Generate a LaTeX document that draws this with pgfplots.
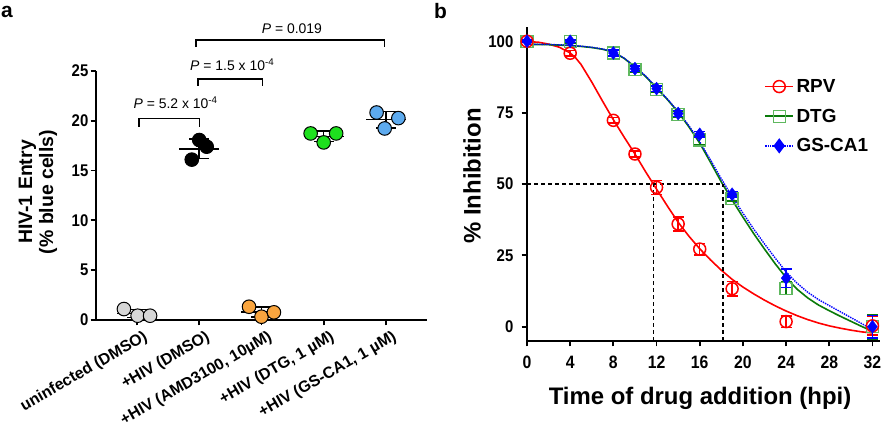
\documentclass[border=0pt]{standalone}
\usepackage{fontspec}
\setmainfont{Liberation Sans}
\newfontfamily\cond[FakeStretch=0.88]{Liberation Sans}
\usepackage{pgfplots}
\pgfplotsset{compat=1.18}
\definecolor{ptgray}{HTML}{D6D6D6}
\definecolor{ptorange}{HTML}{F9A53F}
\definecolor{ptgreen}{HTML}{1EE01E}
\definecolor{ptblue}{HTML}{5DAAEE}
\definecolor{rpv}{HTML}{FF0000}
\definecolor{dtg}{HTML}{0A7A0A}
\definecolor{dtgmk}{HTML}{5FB85F}
\definecolor{gsca}{HTML}{0000FF}
\pgfplotsset{
  panel/.style={
    scale only axis, anchor=south west, clip=false,
    axis x line=bottom, axis y line=left,
    axis line style={-, line width=1.8bp},
    tick align=outside, major tick length=5.5bp,
    tick style={line width=1.8bp, black},
    /pgf/number format/assume math mode=true,
  },
  dots/.style={only marks, mark=*, mark size=6.8bp,
    mark options={draw=black, line width=1bp, fill=#1}},
}
\begin{document}
\begin{tikzpicture}[x=1bp,y=1bp]
\useasboundingbox (0,0) rectangle (881,437);

% ---- panel a
\begin{axis}[panel,
  at={(96bp,117bp)}, width=331bp, height=249bp,
  xmin=-0.659, xmax=4.66, ymin=0, ymax=25,
  xtick={0,...,4},
  xticklabels={uninfected (DMSO), +HIV (DMSO), {+HIV (AMD3100, 10µM)}, {+HIV (DTG, 1 µM)}, {+HIV (GS-CA1, 1 µM)}},
  ytick={0,5,...,25},
  yticklabel style={font=\cond\bfseries\fontsize{17}{17}\selectfont, inner sep=2bp},
  xticklabel style={font=\bfseries\fontsize{16}{16}\selectfont, rotate=30, anchor=north east, inner sep=0pt, xshift=3bp, yshift=-6bp},
]
% mean and SD
\addplot[only marks, mark=-, mark size=20bp, mark options={line width=1.5bp, black},
  error bars/.cd, y dir=both, y explicit,
  error bar style={line width=1.5bp, black},
  error mark options={rotate=90, mark size=10bp, line width=1.5bp, black}]
  coordinates {(0,0.65) +- (0,0.39) (1,17.19) +- (0,1.0) (2,0.81) +- (0,0.5) (3,18.43) +- (0,0.52) (4,20.11) +- (0,0.81)};
\addplot[dots=ptgray] coordinates {(-0.21,1.1) (0.01,0.43) (0.21,0.43)};
\addplot[dots=black] coordinates {(0.88,16.1) (1.0,18.07) (1.12,17.4)};
\addplot[dots=ptorange] coordinates {(1.80,1.33) (2.0,0.33) (2.20,0.77)};
\addplot[dots=ptgreen] coordinates {(2.79,18.73) (3.0,17.83) (3.20,18.73)};
\addplot[dots=ptblue] coordinates {(3.85,20.83) (3.98,19.23) (4.20,20.27)};
% significance brackets
\draw[line width=1.3bp] (axis cs:0.03,19.4) -- (axis cs:0.03,20.2) -- (axis cs:1.0,20.2) -- (axis cs:1.0,19.4);
\draw[line width=1.3bp] (axis cs:0.98,23.5) -- (axis cs:0.98,24.2) -- (axis cs:2.02,24.2) -- (axis cs:2.02,23.5);
\draw[line width=1.3bp] (axis cs:0.95,27.4) -- (axis cs:0.95,28.1) -- (axis cs:3.98,28.1) -- (axis cs:3.98,27.4);
\node[anchor=base, font=\fontsize{14}{14}\selectfont] at (axis cs:0.62,21.25) {\textit{P} = 5.2 x 10\textsuperscript{-4}};
\node[anchor=base, font=\fontsize{14}{14}\selectfont] at (axis cs:1.53,25.0) {\textit{P} = 1.5 x 10\textsuperscript{-4}};
\node[anchor=base, font=\fontsize{14}{14}\selectfont] at (axis cs:2.49,28.8) {\textit{P} = 0.019};
\end{axis}

% ---- panel b
\begin{axis}[panel,
  at={(527bp,96bp)}, width=353bp, height=314bp,
  xmin=0, xmax=32.7, ymin=-5, ymax=105,
  xtick={0,4,...,32}, ytick={0,25,...,100},
  yticklabel style={font=\cond\bfseries\fontsize{17}{17}\selectfont, inner sep=8bp},
  xticklabel style={font=\cond\bfseries\fontsize{18}{18}\selectfont, inner sep=9bp},
  legend style={at={(0.672,0.842)}, anchor=north west, draw=none, fill=none,
    font=\bfseries\fontsize{19}{19}\selectfont, row sep=10bp, inner sep=0pt,
    nodes={inner sep=2.5bp}},
  legend cell align=left,
  legend image code/.code={\draw[mark repeat=2, mark phase=2] plot coordinates {(0bp,0bp) (14bp,0bp) (28bp,0bp)};},
]
% fitted curves
\addplot[rpv, line width=1.6bp, mark=o, mark size=6bp, mark repeat=500, mark phase=500,
  mark options={solid, line width=1.5bp, draw=rpv}]
  coordinates {(0,99.8) (1,99.7) (2,99.0) (3,97.9) (4,95.9) (4.5,94.2) (5,91.9) (6,85.7) (7,79.0) (8,72.5) (9,66.4) (10,60.5) (11,54.2) (12,48.2) (13,42.3) (14,36.6) (15,31.7) (16,27.3) (17,23.4) (18,19.8) (19,16.6) (20,13.9) (21,11.5) (22,9.3) (23,7.3) (24,5.5) (25,3.9) (26,2.5) (27,1.3) (28,0.3) (29,-0.5) (30,-1.2) (31,-1.8) (32,-2.2)};
\addlegendentry{RPV}
\addplot[dtg, line width=1.6bp, mark=square, mark size=6bp, mark repeat=500, mark phase=500,
  mark options={solid, line width=1.3bp, draw=dtgmk}]
  coordinates {(0,98.9) (2,98.8) (4,98.5) (5,98.2) (6,97.8) (7,97.2) (8,96.2) (9,94.0) (10,91.0) (11,87.6) (12,83.6) (13,79.6) (14,75.2) (15,70.0) (16,64.3) (17,57.6) (18,50.7) (19,44.4) (20,38.4) (21,32.6) (22,27.2) (23,22.0) (24,17.2) (25,13.2) (26,10.1) (27,7.6) (28,5.6) (29,3.7) (30,1.9) (31,0.1) (32,-1.6)};
\addlegendentry{DTG}
\addplot[gsca, line width=1.4bp, densely dotted, mark=diamond*, mark size=6.5bp, mark repeat=500, mark phase=500,
  mark options={solid, fill=gsca, draw=gsca}]
  coordinates {(0,99.0) (2,98.9) (4,98.6) (5,98.3) (6,97.9) (7,97.3) (8,96.3) (9,94.1) (10,91.1) (11,87.8) (12,83.8) (13,79.8) (14,75.4) (15,70.4) (16,64.8) (17,58.4) (18,51.8) (19,45.6) (20,39.8) (21,34.2) (22,29.0) (23,24.0) (24,19.2) (25,15.3) (26,12.1) (27,9.5) (28,7.4) (29,5.3) (30,3.2) (31,1.1) (32,-1.0)};
\addlegendentry{GS-CA1}
% 50 % guide lines
\draw[line width=1.4bp, dash pattern=on 4bp off 3bp] (axis cs:0,50) -- (axis cs:18.15,50);
\draw[line width=1.4bp, dash pattern=on 4bp off 3bp] (axis cs:11.7,-5) -- (axis cs:11.7,50);
\draw[line width=1.4bp, dash pattern=on 4bp off 3bp] (axis cs:18.15,-5) -- (axis cs:18.15,50);
% data points
\addplot[forget plot, dtgmk, only marks, mark=square, mark size=6bp, mark options={line width=1.3bp},
  error bars/.cd, y dir=both, y explicit,
  error bar style={line width=1.5bp, dtg},
  error mark options={rotate=90, mark size=5.5bp, line width=1.5bp, dtg}]
  coordinates {(0,100) +- (0,0.5) (4,99.8) +- (0,0.5) (8,95.9) +- (0,1) (10,90.1) +- (0,1) (12,83.1) +- (0,1) (14,74.4) +- (0,1) (16,65.4) +- (0,1.5) (19,45.0) +- (0,1) (24,13.5) +- (0,2.3) (32,0) +- (0,4.3)};
\addplot[forget plot, rpv, only marks, mark=o, mark size=6bp, mark options={line width=1.5bp},
  error bars/.cd, y dir=both, y explicit,
  error bar style={line width=1.5bp, rpv},
  error mark options={rotate=90, mark size=5.5bp, line width=1.5bp, rpv}]
  coordinates {(0,100) +- (0,0.5) (4,95.8) +- (0,1) (8,72.3) +- (0,1) (10,60.5) +- (0,1) (12,48.8) +- (0,2.5) (14,36.0) +- (0,2.5) (16,27.2) +- (0,2) (19,13.3) +- (0,2.5) (24,1.8) +- (0,2) (32,0.3) +- (0,3.2)};
\addplot[forget plot, gsca, only marks, mark=diamond*, mark size=6.5bp, mark options={fill=gsca},
  error bars/.cd, y dir=both, y explicit,
  error bar style={line width=1.5bp, gsca},
  error mark options={rotate=90, mark size=5.5bp, line width=1.5bp, gsca}]
  coordinates {(0,100) +- (0,0.5) (4,100) +- (0,0.5) (8,95.9) +- (0,1) (10,90.4) +- (0,1) (12,83.4) +- (0,1) (14,74.7) +- (0,1) (16,67.4) +- (0,1) (19,46.4) +- (0,1) (24,17.0) +- (0,3.2) (32,0) +- (0,4)};
\end{axis}

% ---- labels
\node[rotate=90, align=center, font=\bfseries\fontsize{19.5}{21}\selectfont] at (38,245) {HIV-1 Entry\\(\% blue cells)};
\node[rotate=90, font=\bfseries\fontsize{24}{24}\selectfont] at (472,261) {\% Inhibition};
\node[anchor=base, font=\bfseries\fontsize{24}{24}\selectfont] at (700,32) {Time of drug addition (hpi)};
\node[anchor=base west, inner sep=0pt, font=\bfseries\fontsize{21}{21}\selectfont] at (1,419) {a};
\node[anchor=base west, inner sep=0pt, font=\bfseries\fontsize{21}{21}\selectfont] at (434,418) {b};
\end{tikzpicture}
\end{document}
